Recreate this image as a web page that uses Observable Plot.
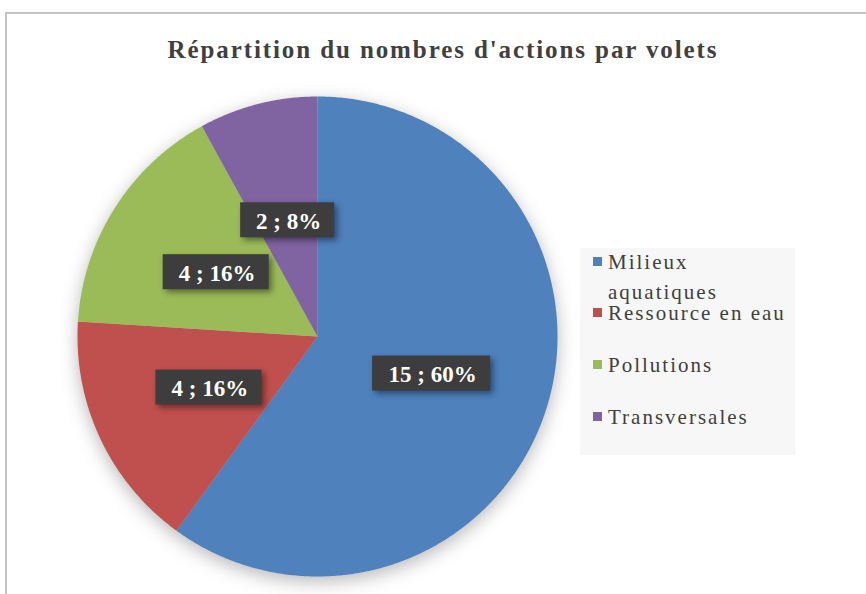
<!DOCTYPE html>
<html>
<head>
<meta charset="utf-8">
<script src="https://cdn.jsdelivr.net/npm/d3@7"></script>
<script src="https://cdn.jsdelivr.net/npm/@observablehq/plot@0.6"></script>
<style>
  html, body { margin: 0; padding: 0; background: #fff; overflow: hidden; }
  #wrap { position: relative; width: 866px; height: 594px; overflow: hidden; font-family: "Liberation Serif", "Times New Roman", serif; }
  #frame { position: absolute; left: 5px; top: 12px; width: 900px; height: 700px; border: 2px solid #c4c4c4; box-sizing: border-box; }
  #title { position: absolute; left: 0; width: 886px; top: 35px; text-align: center; font-family: "Liberation Serif", serif; font-weight: bold; font-size: 25px; line-height: 30px; color: #404040; letter-spacing: 1.9px; }
  #chart { position: absolute; left: 0; top: 0; }
  #legend { position: absolute; left: 580px; top: 248px; width: 215px; height: 207px; background: #f7f7f7; }
  .item { position: absolute; left: 13px; width: 200px; }
  .sw { position: absolute; left: 0; top: 10px; width: 9px; height: 9px; }
  .lab { position: absolute; left: 15px; width: 186px; font-family: "Liberation Serif", serif; font-size: 21px; line-height: 30px; color: #404040; letter-spacing: 2px; }
  .pie { filter: drop-shadow(0px 5px 9px rgba(0,0,0,0.28)); }
  .lblbox { filter: drop-shadow(3px 3px 3px rgba(0,0,0,0.45)); }
  .lbltext, .lbltext text { font-family: "Liberation Serif", serif !important; }
</style>
</head>
<body>
<div id="wrap">
  <div id="frame"></div>
  <div id="chart"></div>
  <div id="title">Répartition du nombres d'actions par volets</div>
  <div id="legend"></div>
</div>
<script>
// ---- data ----
const categories = ["Milieux aquatiques", "Ressource en eau", "Pollutions", "Transversales"];
const counts = [15, 4, 4, 2];
const colors = ["#4f81bd", "#c0504d", "#9bbb59", "#8064a2"];

// ---- derived ----
const R = 240; // pie radius in plot units (1 unit = 1px)
const total = d3.sum(counts);
const arcs = d3.pie().sort(null)(counts);
const slices = arcs.map((a, i) => ({
  cat: categories[i],
  count: counts[i],
  pct: Math.round(100 * counts[i] / total),
  start: a.startAngle,
  end: a.endAngle,
  mid: (a.startAngle + a.endAngle) / 2
}));

// polygon outline points for each slice (center + sampled arc)
const pts = [];
for (const s of slices) {
  pts.push({cat: s.cat, x: 0, y: 0});
  const n = Math.max(2, Math.ceil((s.end - s.start) / (Math.PI / 360)));
  for (let k = 0; k <= n; k++) {
    const t = s.start + (s.end - s.start) * k / n;
    pts.push({cat: s.cat, x: R * Math.sin(t), y: R * Math.cos(t)});
  }
  pts.push({cat: s.cat, x: 0, y: 0});
}

const labels = slices.map(s => {
  const text = `${s.count} ; ${s.pct}%`;
  const cx = (R / 2) * Math.sin(s.mid);
  const cy = (R / 2) * Math.cos(s.mid);
  const hw = 11 + 6 * text.length;
  return {text, cx, cy, x1: cx - hw, x2: cx + hw, y1: cy - 17.5, y2: cy + 17.5};
});

const chart = Plot.plot({
  width: 866,
  height: 594,
  marginLeft: 77,
  marginRight: 309,
  marginTop: 96,
  marginBottom: 18,
  x: {domain: [-R, R], axis: null},
  y: {domain: [-R, R], axis: null},
  color: {domain: categories, range: colors},
  style: {background: "transparent", overflow: "visible"},
  marks: [
    Plot.line(pts, {x: "x", y: "y", z: "cat", fill: "cat", stroke: "none", className: "pie"}),
    Plot.rect(labels, {x1: "x1", x2: "x2", y1: "y1", y2: "y2", fill: "#3d3d3d", className: "lblbox"}),
    Plot.text(labels, {x: "cx", y: "cy", text: "text", fill: "white", fontSize: 23, fontWeight: "bold",
      fontFamily: "Liberation Serif", className: "lbltext", dx: 1, dy: 1, style: {letterSpacing: "1.6px"}})
  ]
});
document.getElementById("chart").appendChild(chart);

// legend
const legend = d3.select("#legend");
const tops = [-1, 50, 102, 154];
categories.forEach((c, i) => {
  const it = legend.append("div").attr("class", "item").style("top", tops[i] + "px");
  it.append("div").attr("class", "sw").style("background", colors[i]);
  it.append("div").attr("class", "lab").text(c);
});
</script>
</body>
</html>
